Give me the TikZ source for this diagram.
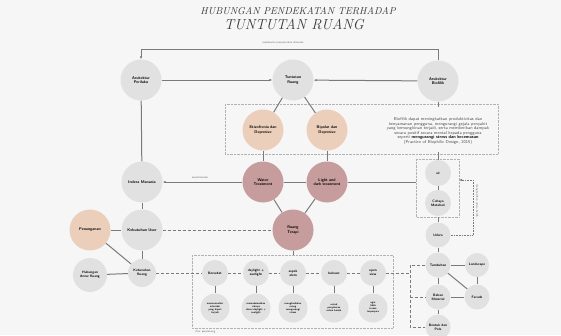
\documentclass[tikz,border=0pt]{standalone}
\usepackage{tikz}
\usetikzlibrary{arrows.meta}

\definecolor{bgc}{HTML}{F6F6F6}
\definecolor{greyc}{HTML}{E1E1E1}
\definecolor{peachc}{HTML}{ECCFBB}
\definecolor{mauvec}{HTML}{C69C9C}
\definecolor{linec}{HTML}{7A7A7A}
\definecolor{titlec}{HTML}{3A3A3A}

\begin{document}
\begin{tikzpicture}[x=1pt,y=-1pt,
    big/.style={circle,fill=greyc,minimum size=41pt,inner sep=0pt,align=center,
      font=\fontsize{3.9}{4.4}\selectfont\sffamily\bfseries},
    mid/.style={big,minimum size=26pt,font=\fontsize{3.4}{3.9}\selectfont\sffamily\bfseries},
    desc/.style={big,minimum size=29pt,font=\fontsize{2.6}{3}\selectfont\sffamily\bfseries},
    link/.style={draw=linec,line width=1pt},
    dashlink/.style={draw=linec,line width=0.6pt,densely dashed},
    frame/.style={draw=gray!60,line width=0.4pt,densely dotted},
    note/.style={font=\fontsize{2.8}{3.2}\selectfont\sffamily,text=gray!80!black}]

  % Canvas
  \fill[bgc] (0,0) rectangle (561,335);
  \useasboundingbox (0,0) rectangle (561,335);
  \clip (0,0) rectangle (561,335);

  % Title
  \node[text=titlec,font=\fontsize{10}{12}\selectfont\itshape] (t1) at (298,11) {HUBUNGAN PENDEKATAN TERHADAP};
  \node[text=titlec,font=\fontsize{14.5}{16}\selectfont\itshape] (t2) at (294,24) {TUNTUTAN RUANG};

  % Top row
  \node[big] (perilaku) at (141,80) {Arsitektur\\Perilaku};
  \node[big] (tuntutan) at (293,80) {Tuntutan\\Ruang};
  \node[big] (biofilik) at (438,81) {Arsitektur\\Biofilik};

  % Box with conditions and biophilic note
  \draw[frame] (225,104) rectangle (498,154);
  \node[big,fill=peachc] (skizo) at (263,130) {Skizofrenia dan\\Depresive};
  \node[big,fill=peachc] (bipolar) at (327,130) {Bipolar dan\\Depresive};
  \node[align=center,inner sep=0pt,text=gray!60!black,font=\fontsize{4.3}{4.6}\selectfont\sffamily] (biotext) at (438,131)
    {Biofilik dapat meningkatkan produktivitas dan\\
     kenyamanan pengguna, mengurangi gejala penyakit\\
     yang kemungkinan terjadi, serta memberikan dampak\\
     secara positif secara mental kepada pengguna\\
     seperti \textbf{\color{black}mengurangi stress dan kecemasan}\\
     (Practice of Biophilic Design, 2015)};

  % Treatments
  \node[big,fill=mauvec] (water) at (263,182) {Water\\Treatment};
  \node[big,fill=mauvec] (light) at (327,182) {Light and\\dark treatment};
  \node[big,fill=mauvec] (terapi) at (293,230) {Ruang\\Terapi};

  % Left column
  \node[big] (indera) at (142,182) {Indera Manusia};
  \node[big] (kebuser) at (142,230) {Kebutuhan User};
  \node[big,fill=peachc] (penanganan) at (90,230) {Penanganan};
  \node[mid,minimum size=28pt] (kebruang) at (142,273) {Kebutuhan\\Ruang};
  \node[mid,minimum size=34pt] (hubungan) at (90,275) {Hubungan\\Antar Ruang};

  % Bottom box
  \draw[frame] (192,255) rectangle (393,328);
  \node[note,anchor=west] (fitur) at (192,332) {fitur pendukung};
  \node[mid] (bersekat) at (215,273) {Bersekat};
  \node[mid] (daylight) at (256,273) {daylight +\\sunlight};
  \node[mid] (aspek) at (293,273) {aspek\\alam};
  \node[mid] (bukaan) at (334,273) {bukaan};
  \node[mid] (openview) at (373,273) {open\\view};
  \node[desc] (d1) at (215,308) {meminimalisir\\interaksi\\yang dapat\\terjadi};
  \node[desc] (d2) at (256,308) {memaksimalkan\\cahaya\\alami daylight +\\sunlight};
  \node[desc] (d3) at (293,308) {menghadirkan\\ruang\\mengurangi\\stress};
  \node[desc] (d4) at (334,308) {untuk\\penyaluran\\udara bersih};
  \node[desc] (d5) at (373,308) {agar\\tidak\\terasa\\terpenjara};

  % Right column
  \draw[frame] (416,159) rectangle (459,217);
  \node[mid] (air) at (438,173) {air};
  \node[mid] (cahaya) at (438,203) {Cahaya\\Matahari};
  \node[mid,minimum size=25pt] (udara) at (438,235) {Udara};
  \node[mid,minimum size=25pt] (tumbuhan) at (438,265) {Tumbuhan};
  \node[mid,minimum size=24pt] (landscape) at (477,265) {Landscape};
  \node[mid,minimum size=25pt] (facade) at (477,297) {Facade};
  \node[mid,minimum size=25pt] (bahan) at (438,297) {Bahan\\Material};
  \node[mid,minimum size=25pt] (bentuk) at (438,327) {Bentuk dan\\Pola};

  % Helper points
  \coordinate (tl) at (141,49);
  \coordinate (tr) at (438,49);
  \coordinate (boxtop) at (438,107);
  \coordinate (boxbot) at (438,152);
  \coordinate (airtop) at (438,160);
  \coordinate (airbot) at (438,217);
  \coordinate (airleft) at (416,182);
  \coordinate (airin) at (459,180);
  \coordinate (bk) at (410,273);

  % Top loop
  \draw[link,line width=0.8pt,-{Latex[length=3pt,width=2.5pt]}] (biofilik.north) -- (tr) -- (tl) -- (perilaku.north);
  \node[note] (stimulus) at (283,43) {membantu menyalurkan stimulus};
  \draw[link,-{Latex[length=3pt,width=2.5pt]}] (perilaku) -- (tuntutan);
  \draw[link,-{Latex[length=3pt,width=2.5pt]}] (biofilik) -- (tuntutan);

  % Main links
  \draw[link] (tuntutan) -- (skizo);
  \draw[link] (tuntutan) -- (bipolar);
  \draw[link] (skizo) -- (water);
  \draw[link] (bipolar) -- (light);
  \draw[link] (water) -- (light);
  \draw[link] (water) -- (terapi);
  \draw[link] (light) -- (terapi);
  \draw[link] (light) -- (airleft);
  \draw[link,-{Latex[length=3pt,width=2.5pt]}] (water) -- (indera);
  \node[note] (stimulasi) at (200,178) {menstimulasi};
  \draw[link] (biofilik) -- (boxtop);
  \draw[link] (boxbot) -- (airtop);

  % Left column links
  \draw[link] (perilaku) -- (indera);
  \draw[link] (indera) -- (kebuser);
  \draw[link] (kebuser) -- (kebruang);
  \draw[link] (penanganan) -- (kebuser);
  \draw[link] (penanganan) -- (kebruang);
  \draw[link] (hubungan) -- (kebruang);
  \draw[dashlink] (kebuser) -- (terapi);

  % Bottom row links
  \draw[link] (terapi) -- (293,255);
  \draw[dashlink] (kebruang) -- (bersekat);
  \draw[dashlink] (bersekat) -- (daylight);
  \draw[dashlink] (daylight) -- (aspek);
  \draw[dashlink] (aspek) -- (bukaan);
  \draw[dashlink] (bukaan) -- (openview);
  \draw[dashlink] (openview) -- (bk);
  \foreach \a/\b in {bersekat/d1,daylight/d2,aspek/d3,bukaan/d4,openview/d5}
    \draw[link] (\a) -- (\b);

  % Right column links
  \draw[link] (air) -- (cahaya);
  \draw[link] (airbot) -- (udara);
  \draw[dashlink,densely dotted,line width=0.8pt,-{Latex[length=3pt,width=2.5pt]}] (udara.east) -- (473,235) -- (473,180) -- (airin);
  \node[note,rotate=-90] (udaralbl) at (477,201) {menghasilkan udara bersih};
  \draw[link] (udara) -- (tumbuhan);
  \draw[link] (tumbuhan) -- (landscape);
  \draw[link] (tumbuhan) -- (facade);
  \draw[link] (landscape) -- (facade);
  \draw[link] (tumbuhan) -- (bahan);
  \draw[link] (bahan) -- (facade);
  \draw[link] (bahan) -- (bentuk);
  \draw[dashlink] (tumbuhan.west) -- (410,265) -- (410,327) -- (bentuk.west);
  \draw[dashlink] (410,297) -- (bahan.west);
\end{tikzpicture}
\end{document}
